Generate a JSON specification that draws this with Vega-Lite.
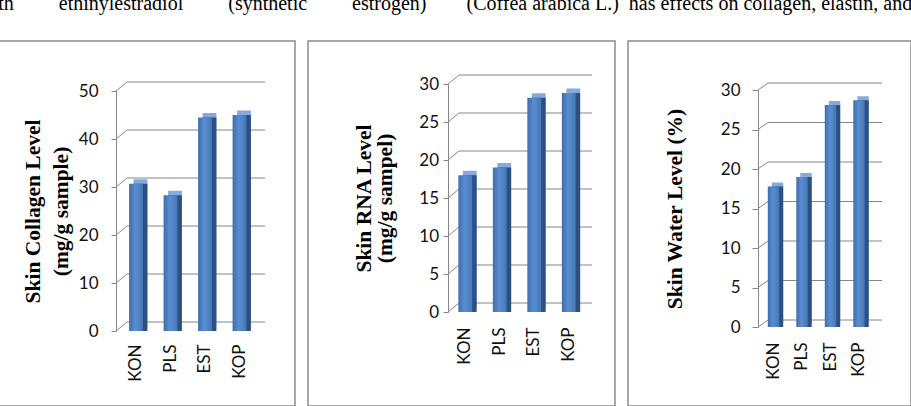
{
  "$schema": "https://vega.github.io/schema/vega-lite/v6.json",
  "background": "white",
  "padding": {"left": -2, "top": -6, "right": 0, "bottom": 0},
  "title": {
    "text": "th\u00a0\u00a0\u00a0\u00a0\u00a0\u00a0\u00a0\u00a0\u00a0ethinylestradiol\u00a0\u00a0\u00a0\u00a0\u00a0\u00a0\u00a0\u00a0\u00a0(synthetic\u00a0\u00a0\u00a0\u00a0\u00a0\u00a0\u00a0\u00a0\u00a0estrogen)\u00a0\u00a0\u00a0\u00a0\u00a0\u00a0\u00a0\u00a0(Coffea arabica L.)\u00a0\u00a0has effects on collagen, elastin, and",
    "anchor": "start",
    "font": "Liberation Serif",
    "fontSize": 20,
    "fontWeight": "normal",
    "color": "#000000",
    "offset": 26
  },
  "datasets": {
    "collagen": [
      {"group": "KON", "value": 30.7},
      {"group": "PLS", "value": 28.3},
      {"group": "EST", "value": 44.5},
      {"group": "KOP", "value": 45.0}
    ],
    "rna": [
      {"group": "KON", "value": 18.0},
      {"group": "PLS", "value": 19.0},
      {"group": "EST", "value": 28.2},
      {"group": "KOP", "value": 28.8}
    ],
    "water": [
      {"group": "KON", "value": 17.8},
      {"group": "PLS", "value": 19.0},
      {"group": "EST", "value": 28.1},
      {"group": "KOP", "value": 28.7}
    ],
    "g50": [{"value": 0}, {"value": 10}, {"value": 20}, {"value": 30}, {"value": 40}, {"value": 50}],
    "g30": [{"value": 0}, {"value": 5}, {"value": 10}, {"value": 15}, {"value": 20}, {"value": 25}, {"value": 30}],
    "one": [{"k": 1}]
  },
  "spacing": 11,
  "hconcat": [
    {
      "width": 296,
      "height": 365,
      "encoding": {
        "y": {
          "field": "value", "type": "quantitative",
          "scale": {"domain": [0, 50], "range": [290, 50], "nice": false, "zero": true},
          "axis": {"values": [0, 10, 20, 30, 40, 50], "grid": false, "domain": true, "domainColor": "#868686", "ticks": true, "tickSize": 5, "tickColor": "#868686", "labelFont": "Lato", "labelFontSize": 17, "labelColor": "#111111", "labelPadding": 13, "offset": -117, "title": ["Skin Collagen Level", "(mg/g sample)"], "titleFont": "Liberation Serif", "titleFontSize": 21.5, "titleFontWeight": "bold", "titleColor": "#000000", "titleLineHeight": 28, "titlePadding": 6}
        }
      },
      "layer": [
        {
          "data": {"name": "g50"},
          "mark": {"type": "rule", "color": "#868686", "strokeWidth": 1, "xOffset": -9, "x2Offset": 25.5, "yOffset": -9},
          "encoding": {
            "x": {"datum": "KON", "type": "nominal", "scale": {"domain": ["KON", "PLS", "EST", "KOP"], "range": [119.75, 257.75], "paddingInner": 0.6, "paddingOuter": 0.3}, "axis": {"title": null, "domain": false, "ticks": false, "tickSize": 0, "labelAngle": -90, "labelPadding": 13, "labelFont": "Lato", "labelFontSize": 17, "labelColor": "#111111", "offset": -75}},
            "x2": {"datum": "KOP"}
          }
        },
        {
          "data": {"name": "g50"},
          "mark": {"type": "rule", "color": "#868686", "strokeWidth": 1, "xOffset": -20, "x2Offset": -9, "y2Offset": -9},
          "encoding": {
            "x": {"datum": "KON", "type": "nominal"},
            "x2": {"datum": "KON"},
            "y2": {"field": "value"}
          }
        },
        {
          "data": {"name": "one"},
          "mark": {"type": "rule", "color": "#868686", "strokeWidth": 1, "xOffset": -20, "x2Offset": 14.5},
          "encoding": {
            "x": {"datum": "KON", "type": "nominal"},
            "x2": {"datum": "KOP"},
            "y": {"datum": 0, "type": "quantitative"}
          }
        },
        {
          "data": {"name": "one"},
          "mark": {"type": "rule", "color": "#868686", "strokeWidth": 1, "xOffset": 14.5, "x2Offset": 25.5, "y2Offset": -9},
          "encoding": {
            "x": {"datum": "KOP", "type": "nominal"},
            "x2": {"datum": "KOP"},
            "y": {"datum": 0, "type": "quantitative"},
            "y2": {"datum": 0}
          }
        },
        {
          "data": {"name": "collagen"},
          "mark": {"type": "bar", "color": "#86aadb", "xOffset": 4.5, "x2Offset": 4.5, "yOffset": -4.5, "y2Offset": -4.5},
          "encoding": {"x": {"field": "group", "type": "nominal", "sort": null}}
        },
        {
          "data": {"name": "collagen"},
          "mark": {"type": "bar", "color": "#2c5181", "xOffset": 4.5, "x2Offset": 4.5, "y2Offset": -4.5},
          "encoding": {"x": {"field": "group", "type": "nominal", "sort": null}}
        },
        {
          "data": {"name": "collagen"},
          "mark": {"type": "bar", "color": {"gradient": "linear", "x1": 0, "y1": 0, "x2": 1, "y2": 0, "stops": [{"offset": 0, "color": "#3e6dad"}, {"offset": 0.45, "color": "#5a8dd0"}, {"offset": 1, "color": "#4577b8"}]}},
          "encoding": {"x": {"field": "group", "type": "nominal", "sort": null}}
        }
      ]
    },
    {
      "width": 307,
      "height": 365,
      "encoding": {
        "y": {
          "field": "value", "type": "quantitative",
          "scale": {"domain": [0, 30], "range": [271, 43], "nice": false, "zero": true},
          "axis": {"values": [0, 5, 10, 15, 20, 25, 30], "grid": false, "domain": true, "domainColor": "#868686", "ticks": true, "tickSize": 5, "tickColor": "#868686", "labelFont": "Lato", "labelFontSize": 17, "labelColor": "#111111", "labelPadding": 4.5, "offset": -140, "title": ["Skin RNA Level", "(mg/g sampel)"], "titleFont": "Liberation Serif", "titleFontSize": 21.5, "titleFontWeight": "bold", "titleColor": "#000000", "titleLineHeight": 21, "titlePadding": 22}
        }
      },
      "layer": [
        {
          "data": {"name": "g30"},
          "mark": {"type": "rule", "color": "#868686", "strokeWidth": 1, "xOffset": -6.25, "x2Offset": 23.25, "yOffset": -9},
          "encoding": {
            "x": {"datum": "KON", "type": "nominal", "scale": {"domain": ["KON", "PLS", "EST", "KOP"], "range": [140, 278], "paddingInner": 0.6, "paddingOuter": 0.3}, "axis": {"title": null, "domain": false, "ticks": false, "tickSize": 0, "labelAngle": -90, "labelPadding": 15, "labelFont": "Lato", "labelFontSize": 17, "labelColor": "#111111", "offset": -94}},
            "x2": {"datum": "KOP"}
          }
        },
        {
          "data": {"name": "g30"},
          "mark": {"type": "rule", "color": "#868686", "strokeWidth": 1, "xOffset": -17.25, "x2Offset": -6.25, "y2Offset": -9},
          "encoding": {
            "x": {"datum": "KON", "type": "nominal"},
            "x2": {"datum": "KON"},
            "y2": {"field": "value"}
          }
        },
        {
          "data": {"name": "one"},
          "mark": {"type": "rule", "color": "#868686", "strokeWidth": 1, "xOffset": -17.25, "x2Offset": 13.25},
          "encoding": {
            "x": {"datum": "KON", "type": "nominal"},
            "x2": {"datum": "KOP"},
            "y": {"datum": 0, "type": "quantitative"}
          }
        },
        {
          "data": {"name": "one"},
          "mark": {"type": "rule", "color": "#868686", "strokeWidth": 1, "xOffset": 13.25, "x2Offset": 23.25, "y2Offset": -9},
          "encoding": {
            "x": {"datum": "KOP", "type": "nominal"},
            "x2": {"datum": "KOP"},
            "y": {"datum": 0, "type": "quantitative"},
            "y2": {"datum": 0}
          }
        },
        {
          "data": {"name": "rna"},
          "mark": {"type": "bar", "color": "#86aadb", "xOffset": 4.5, "x2Offset": 4.5, "yOffset": -4.5, "y2Offset": -4.5},
          "encoding": {"x": {"field": "group", "type": "nominal", "sort": null}}
        },
        {
          "data": {"name": "rna"},
          "mark": {"type": "bar", "color": "#2c5181", "xOffset": 4.5, "x2Offset": 4.5, "y2Offset": -4.5},
          "encoding": {"x": {"field": "group", "type": "nominal", "sort": null}}
        },
        {
          "data": {"name": "rna"},
          "mark": {"type": "bar", "color": {"gradient": "linear", "x1": 0, "y1": 0, "x2": 1, "y2": 0, "stops": [{"offset": 0, "color": "#3e6dad"}, {"offset": 0.45, "color": "#5a8dd0"}, {"offset": 1, "color": "#4577b8"}]}},
          "encoding": {"x": {"field": "group", "type": "nominal", "sort": null}}
        }
      ]
    },
    {
      "width": 283,
      "height": 365,
      "encoding": {
        "y": {
          "field": "value", "type": "quantitative",
          "scale": {"domain": [0, 30], "range": [286, 49], "nice": false, "zero": true},
          "axis": {"values": [0, 5, 10, 15, 20, 25, 30], "grid": false, "domain": true, "domainColor": "#868686", "ticks": true, "tickSize": 6, "tickColor": "#868686", "labelFont": "Lato", "labelFontSize": 17, "labelColor": "#111111", "labelPadding": 12, "offset": -130, "title": "Skin Water Level (%)", "titleFont": "Liberation Serif", "titleFontSize": 21.5, "titleFontWeight": "bold", "titleColor": "#000000", "titlePadding": 34}
        }
      },
      "layer": [
        {
          "data": {"name": "g30"},
          "mark": {"type": "rule", "color": "#868686", "strokeWidth": 1, "xOffset": -5.5, "x2Offset": 23, "yOffset": -7},
          "encoding": {
            "x": {"datum": "KON", "type": "nominal", "scale": {"domain": ["KON", "PLS", "EST", "KOP"], "range": [131.25, 245.25], "paddingInner": 0.6, "paddingOuter": 0.3}, "axis": {"title": null, "domain": false, "ticks": false, "tickSize": 0, "labelAngle": -90, "labelPadding": 15, "labelFont": "Lato", "labelFontSize": 17, "labelColor": "#111111", "offset": -79}},
            "x2": {"datum": "KOP"}
          }
        },
        {
          "data": {"name": "g30"},
          "mark": {"type": "rule", "color": "#868686", "strokeWidth": 1, "xOffset": -15.5, "x2Offset": -5.5, "y2Offset": -7},
          "encoding": {
            "x": {"datum": "KON", "type": "nominal"},
            "x2": {"datum": "KON"},
            "y2": {"field": "value"}
          }
        },
        {
          "data": {"name": "one"},
          "mark": {"type": "rule", "color": "#868686", "strokeWidth": 1, "xOffset": -15.5, "x2Offset": 13},
          "encoding": {
            "x": {"datum": "KON", "type": "nominal"},
            "x2": {"datum": "KOP"},
            "y": {"datum": 0, "type": "quantitative"}
          }
        },
        {
          "data": {"name": "one"},
          "mark": {"type": "rule", "color": "#868686", "strokeWidth": 1, "xOffset": 13, "x2Offset": 23, "y2Offset": -7},
          "encoding": {
            "x": {"datum": "KOP", "type": "nominal"},
            "x2": {"datum": "KOP"},
            "y": {"datum": 0, "type": "quantitative"},
            "y2": {"datum": 0}
          }
        },
        {
          "data": {"name": "water"},
          "mark": {"type": "bar", "color": "#86aadb", "xOffset": 4, "x2Offset": 4, "yOffset": -4, "y2Offset": -4},
          "encoding": {"x": {"field": "group", "type": "nominal", "sort": null}}
        },
        {
          "data": {"name": "water"},
          "mark": {"type": "bar", "color": "#2c5181", "xOffset": 4, "x2Offset": 4, "y2Offset": -4},
          "encoding": {"x": {"field": "group", "type": "nominal", "sort": null}}
        },
        {
          "data": {"name": "water"},
          "mark": {"type": "bar", "color": {"gradient": "linear", "x1": 0, "y1": 0, "x2": 1, "y2": 0, "stops": [{"offset": 0, "color": "#3e6dad"}, {"offset": 0.45, "color": "#5a8dd0"}, {"offset": 1, "color": "#4577b8"}]}},
          "encoding": {"x": {"field": "group", "type": "nominal", "sort": null}}
        }
      ]
    }
  ],
  "config": {
    "view": {"stroke": "#8a8a8a", "strokeWidth": 1.5}
  }
}
